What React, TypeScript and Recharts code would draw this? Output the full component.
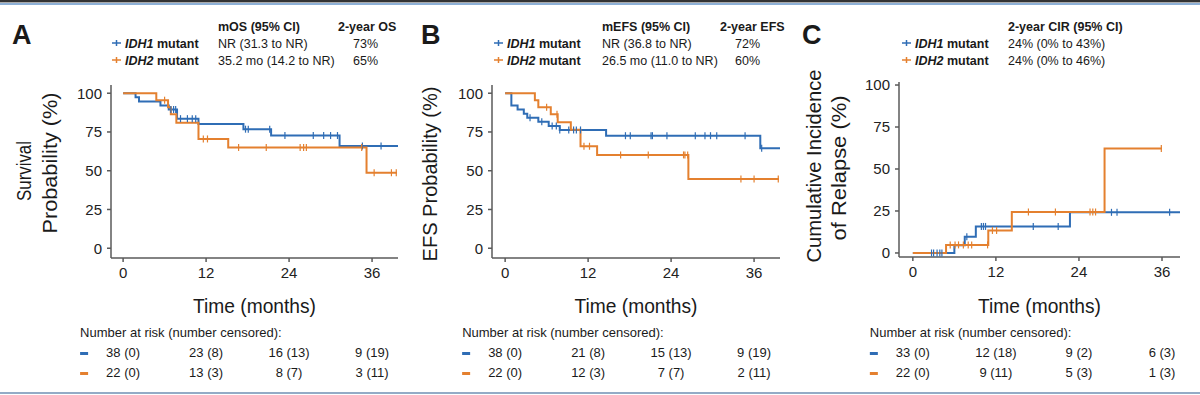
import { Line, LineChart, XAxis, YAxis } from 'recharts'

const BLUE = '#2f6db5'
const ORANGE = '#e4802f'
const AXIS = '#5a5a5a'
const FONT = "'Liberation Sans', Arial, sans-serif"

// [months, %] at each step, censor times, end of follow-up
const osIdh1Steps = [[0, 100], [1.8, 97.4], [2.3, 94.7], [5.4, 92.1], [6.6, 89.5], [7.8, 83.6], [10.9, 80.1], [17.4, 76.8], [21.4, 72.7], [31.3, 65.9]]
const osIdh1Cens = [6.9, 7.3, 7.6, 8.3, 9.3, 10.0, 10.5, 17.7, 18.1, 21.2, 23.4, 27.5, 29.0, 30.0, 31.0, 34.6, 37.3]
const osIdh1End = 39.8
const osIdh2Steps = [[0, 100], [4.8, 95.5], [6.5, 90.9], [6.9, 86.4], [7.7, 80.9], [10.9, 70.5], [15.2, 65.0], [35.2, 48.7]]
const osIdh2Cens = [6.0, 11.6, 12.2, 16.7, 20.7, 25.6, 26.1, 26.5, 34.5, 36.3, 38.8, 39.5]
const osIdh2End = 39.6

const efsIdh1Steps = [[0, 100], [0.9, 92.1], [1.8, 89.5], [2.7, 86.8], [3.2, 84.2], [4.8, 81.6], [6.3, 78.9], [7.9, 76.3], [14.6, 72.6], [36.9, 64.5]]
const efsIdh1Cens = [3.6, 5.3, 6.8, 7.4, 7.9, 9.2, 9.9, 10.3, 10.9, 17.4, 18.1, 21.1, 21.3, 23.4, 27.5, 28.9, 29.7, 30.6, 34.7, 37.1]
const efsIdh1End = 39.8
const efsIdh2Steps = [[0, 100], [4.3, 95.5], [4.8, 90.9], [6.6, 86.4], [7.6, 81.2], [9.5, 76.5], [10.9, 65.8], [13.3, 60.2], [26.5, 44.6]]
const efsIdh2Cens = [6.0, 7.5, 11.4, 12.2, 16.7, 20.7, 25.8, 26.0, 26.4, 34.1, 36.0, 39.5]
const efsIdh2End = 39.6

const cirIdh1Steps = [[0, 0], [6.0, 4.6], [7.5, 9.6], [9.1, 15.8], [22.7, 24.2]]
const cirIdh1Cens = [2.7, 3.0, 3.5, 3.9, 4.2, 7.8, 9.9, 10.2, 10.5, 17.4, 21.0, 28.7, 29.5, 37.1]
const cirIdh1End = 38.6
const cirIdh2Steps = [[0, 0], [4.8, 4.8], [10.9, 13.4], [14.3, 24.4], [27.7, 62.2]]
const cirIdh2Cens = [5.4, 6.1, 6.6, 7.3, 8.0, 8.5, 10.8, 11.5, 12.1, 16.7, 20.6, 25.6, 26.0, 26.4, 35.9]
const cirIdh2End = 36.0

const xTicks = [0, 12, 24, 36]
const yTicks = [0, 25, 50, 75, 100]

const osRisk1 = ['38 (0)', '23 (8)', '16 (13)', '9 (19)']
const osRisk2 = ['22 (0)', '13 (3)', '8 (7)', '3 (11)']
const efsRisk1 = ['38 (0)', '21 (8)', '15 (13)', '9 (19)']
const efsRisk2 = ['22 (0)', '12 (3)', '7 (7)', '2 (11)']
const cirRisk1 = ['33 (0)', '12 (18)', '9 (2)', '6 (3)']
const cirRisk2 = ['22 (0)', '9 (11)', '5 (3)', '1 (3)']

type Pt = { t: number; v: number; c: boolean }

function kmSeries(steps: number[][], cens: number[], end: number): Pt[] {
  const valueAt = (t: number) => {
    let v = steps[0][1]
    for (const [s, y] of steps) if (s <= t) v = y
    return v
  }
  const pts: Pt[] = [
    ...steps.map(([t, v]) => ({ t, v, c: false })),
    ...cens.map((t) => ({ t, v: valueAt(t), c: true })),
    { t: end, v: valueAt(end), c: false },
  ]
  return pts.sort((a, b) => a.t - b.t || (a.c ? 1 : -1))
}

const W = 400
const H = 300
const Y_W = 40
const X_H = 30

const panels = [
  {
    id: 'A', left: 0, plot: { l: 111, r: 398, t: 85, b: 258 },
    xDomain: [-1.75, 39.75], yDomain: [-6.3, 105.3],
    s1: kmSeries(osIdh1Steps, osIdh1Cens, osIdh1End), s2: kmSeries(osIdh2Steps, osIdh2Cens, osIdh2End),
    risk1: osRisk1, risk2: osRisk2,
  },
  {
    id: 'B', left: 400, plot: { l: 492, r: 780, t: 85, b: 258 },
    xDomain: [-1.9, 39.75], yDomain: [-6.3, 105.3],
    s1: kmSeries(efsIdh1Steps, efsIdh1Cens, efsIdh1End), s2: kmSeries(efsIdh2Steps, efsIdh2Cens, efsIdh2End),
    risk1: efsRisk1, risk2: efsRisk2,
  },
  {
    id: 'C', left: 800, plot: { l: 899, r: 1180, t: 82, b: 257 },
    xDomain: [-2.0, 38.6], yDomain: [-2.4, 101.8],
    s1: kmSeries(cirIdh1Steps, cirIdh1Cens, cirIdh1End), s2: kmSeries(cirIdh2Steps, cirIdh2Cens, cirIdh2End),
    risk1: cirRisk1, risk2: cirRisk2,
  },
]

const censorDot = (color: string) => (p: any) => {
  if (!p?.payload?.c) return <g key={p.key} />
  return <line key={p.key} x1={p.cx} x2={p.cx} y1={p.cy - 3.5} y2={p.cy + 3.5} stroke={color} strokeWidth={1.2} />
}

function Panel({ cfg }: { cfg: (typeof panels)[number] }) {
  const { plot } = cfg
  return (
    <div style={{ position: 'absolute', left: cfg.left, top: 0 }}>
      <LineChart
        width={W}
        height={H}
        margin={{ top: plot.t, bottom: H - plot.b - X_H, left: plot.l - cfg.left - Y_W, right: cfg.left + W - plot.r }}
      >
        <XAxis
          type="number"
          dataKey="t"
          domain={cfg.xDomain}
          ticks={xTicks}
          interval={0}
          height={X_H}
          allowDataOverflow
          tickSize={4}
          tickMargin={5}
          stroke={AXIS}
          strokeWidth={1.5}
          tick={{ fill: '#222', fontSize: 15, fontFamily: FONT }}
        />
        <YAxis
          type="number"
          dataKey="v"
          domain={cfg.yDomain}
          ticks={yTicks}
          interval={0}
          width={Y_W}
          allowDataOverflow
          tickSize={4}
          tickMargin={5}
          stroke={AXIS}
          strokeWidth={1.5}
          tick={{ fill: '#222', fontSize: 15, fontFamily: FONT }}
        />
        <Line data={cfg.s1} dataKey="v" type="stepAfter" stroke={BLUE} strokeWidth={2} dot={censorDot(BLUE)} activeDot={false} isAnimationActive={false} />
        <Line data={cfg.s2} dataKey="v" type="stepAfter" stroke={ORANGE} strokeWidth={2} dot={censorDot(ORANGE)} activeDot={false} isAnimationActive={false} />
      </LineChart>
    </div>
  )
}

function Plus({ x, y, color }: { x: number; y: number; color: string }) {
  return (
    <g stroke={color} strokeWidth={1.5}>
      <line x1={x} x2={x + 9} y1={y} y2={y} />
      <line x1={x + 4.5} x2={x + 4.5} y1={y - 3} y2={y + 3} />
    </g>
  )
}

function Legend({ letter, lx, px, vx, ex, head1, head2, v1, v2, e1, e2 }: any) {
  return (
    <g fontFamily={FONT} fill="#1a1a1a">
      <text x={lx} y={44} fontSize={27} fontWeight="bold">{letter}</text>
      <text x={vx} y={30.5} fontSize={12.5} fontWeight="bold">{head1}</text>
      {head2 && <text x={ex - 15} y={30.5} fontSize={12.5} fontWeight="bold">{head2}</text>}
      <Plus x={px} y={43} color={BLUE} />
      <Plus x={px} y={60} color={ORANGE} />
      <text x={px + 13} y={47.5} fontSize={12.5} fontWeight="bold"><tspan fontStyle="italic">IDH1</tspan> mutant</text>
      <text x={px + 13} y={64.5} fontSize={12.5} fontWeight="bold"><tspan fontStyle="italic">IDH2</tspan> mutant</text>
      <text x={vx} y={47.5} fontSize={12.5}>{v1}</text>
      <text x={vx} y={64.5} fontSize={12.5}>{v2}</text>
      {e1 && <text x={ex} y={47.5} fontSize={12.5}>{e1}</text>}
      {e2 && <text x={ex} y={64.5} fontSize={12.5}>{e2}</text>}
    </g>
  )
}

function RiskTable({ cfg }: { cfg: (typeof panels)[number] }) {
  const { plot, xDomain } = cfg
  const sx = (t: number) => plot.l + ((t - xDomain[0]) / (xDomain[1] - xDomain[0])) * (plot.r - plot.l)
  const x0 = sx(0) - 43
  return (
    <g fontFamily={FONT} fill="#1a1a1a" fontSize={13}>
      <text x={x0} y={337}>Number at risk (number censored):</text>
      <rect x={x0} y={352} width={8} height={3} fill={BLUE} />
      <rect x={x0} y={372} width={8} height={3} fill={ORANGE} />
      {xTicks.map((t, i) => (
        <g key={t}>
          <text x={sx(t)} y={357} textAnchor="middle">{cfg.risk1[i]}</text>
          <text x={sx(t)} y={377} textAnchor="middle">{cfg.risk2[i]}</text>
        </g>
      ))}
      <text x={(plot.l + plot.r) / 2} y={313} textAnchor="middle" fontSize={21} textLength={123} lengthAdjust="spacingAndGlyphs">Time (months)</text>
    </g>
  )
}

function VTitle({ x, y, len, children }: any) {
  return (
    <text transform={`translate(${x},${y}) rotate(-90)`} textAnchor="middle" fontSize={21} fontFamily={FONT} fill="#1a1a1a" textLength={len} lengthAdjust="spacingAndGlyphs">
      {children}
    </text>
  )
}

export default function App() {
  return (
    <div style={{ position: 'absolute', left: 0, top: 0, width: 1200, height: 395, background: '#fff', overflow: 'hidden' }}>
      {panels.map((p) => <Panel key={p.id} cfg={p} />)}
      <svg width={1200} height={395} style={{ position: 'absolute', left: 0, top: 0, pointerEvents: 'none' }}>
        <rect x={0} y={0} width={1200} height={2} fill="#333" />
        <rect x={0} y={2} width={1200} height={1} fill="#aaa" />
        <rect x={0} y={3} width={1200} height={2} fill="#8db0d6" />
        <rect x={0} y={392} width={1200} height={2} fill="#93abc6" />

        <Legend letter="A" lx={12} px={112} vx={218} ex={353} head1="mOS (95% CI)" head2="2-year OS"
          v1="NR (31.3 to NR)" v2="35.2 mo (14.2 to NR)" e1="73%" e2="65%" />
        <Legend letter="B" lx={421} px={494} vx={602} ex={735} head1="mEFS (95% CI)" head2="2-year EFS"
          v1="NR (36.8 to NR)" v2="26.5 mo (11.0 to NR)" e1="72%" e2="60%" />
        <Legend letter="C" lx={802} px={902} vx={1008} ex={0} head1="2-year CIR (95% CI)"
          v1="24% (0% to 43%)" v2="24% (0% to 46%)" />

        <VTitle x={31} y={171} len={60}>Survival</VTitle>
        <VTitle x={57} y={163} len={141}>Probability (%)</VTitle>
        <VTitle x={437} y={174} len={175}>EFS Probability (%)</VTitle>
        <VTitle x={821} y={166} len={193}>Cumulative Incidence</VTitle>
        <VTitle x={846} y={168} len={145}>of Relapse (%)</VTitle>

        {panels.map((p) => <RiskTable key={p.id} cfg={p} />)}
      </svg>
    </div>
  )
}
